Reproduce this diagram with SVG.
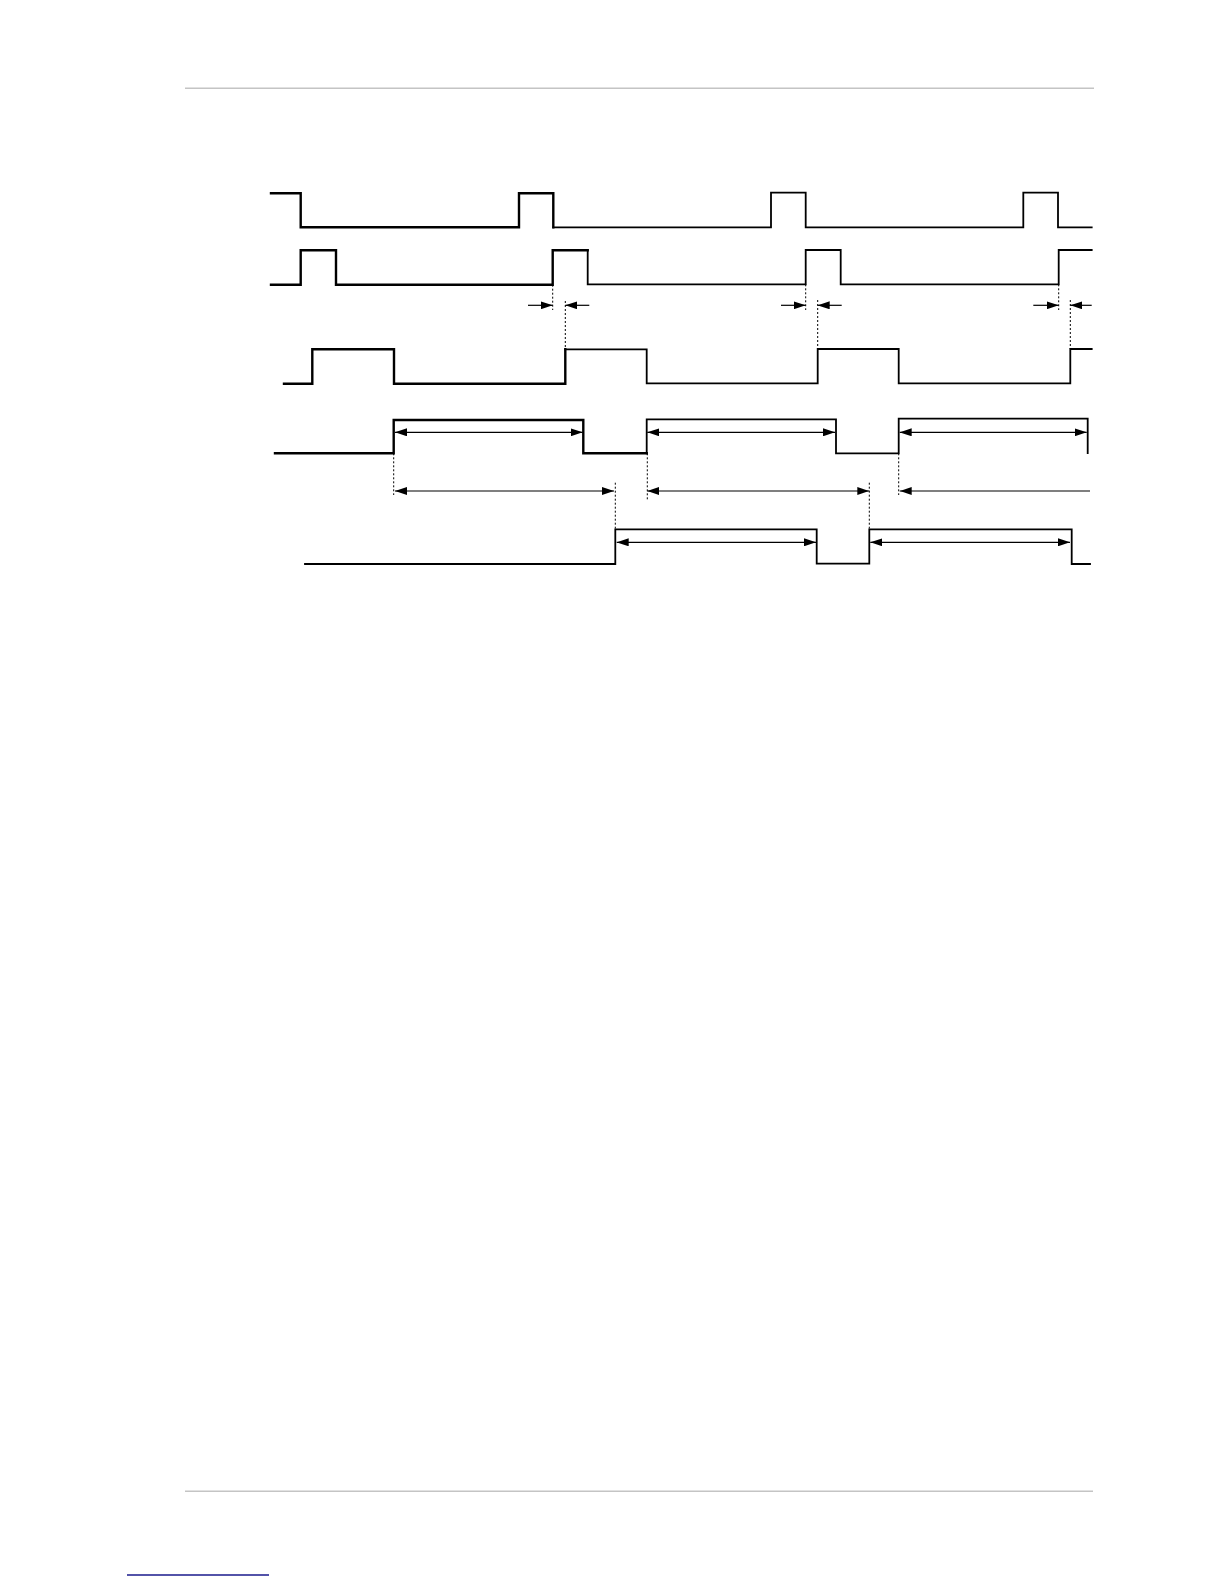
<svg xmlns="http://www.w3.org/2000/svg" width="1224" height="1584" viewBox="0 0 1224 1584">
<style>
.sig{fill:none;stroke:#000;stroke-width:1.8;stroke-linejoin:miter;stroke-linecap:square}
.thk{stroke-width:2.4}
.dot{fill:none;stroke:#000;stroke-width:1;stroke-dasharray:2,2}
.arr{fill:none;stroke:#000;stroke-width:1.2}
.rule{stroke:#c4c4c4;stroke-width:1.5}
</style>
<defs>
<marker id="ah" viewBox="0 0 12 8" refX="12" refY="4" markerWidth="12" markerHeight="8" markerUnits="userSpaceOnUse" orient="auto-start-reverse">
<path d="M0,0 L12,4 L0,8 Z" fill="#000"/>
</marker>
</defs>
<rect width="1224" height="1584" fill="#fff"/>
<line class="rule" x1="185" y1="88.3" x2="1094" y2="88.3"/>
<line class="rule" x1="185" y1="1491.3" x2="1093" y2="1491.3"/>
<line x1="127" y1="1575" x2="269" y2="1575" stroke="#1a1a8c" stroke-width="1.4"/>

<g id="signal1">
<path class="sig thk" d="M271,193.3 H300.7 V227.3 H519 V193.3 H553.3 V227.3"/>
<path class="sig" d="M553.3,227.3 H771 V192.7 H805.7 V227.3 H1023.3 V192.7 H1058 V227.3 H1091.7"/>
</g>
<g id="signal2">
<path class="sig thk" d="M271,284.7 H300.7 V250.3 H336 V284.7 H552.7 V250.3 H587.7"/>
<path class="sig" d="M587.7,250.3 V284.3 H805.7 V250 H840.7 V284.3 H1058.7 V250 H1091.7"/>
</g>
<g id="signal3">
<path class="sig thk" d="M284,383.7 H312.3 V349.3 H394 V383.7 H565.3 V349.3"/>
<path class="sig" d="M565.3,349.3 H646.7 V383.3 H817.7 V349 H898.7 V383.3 H1070.3 V349 H1091.7"/>
</g>
<g id="signal4">
<path class="sig thk" d="M275,453.3 H393.7 V420 H583.3 V453.3 H646.7"/>
<path class="sig" d="M646.7,453.3 V419.3 H836 V453.3 H898.7 V418.7 H1087.7 V453"/>
</g>
<g id="signal5">
<path class="sig" d="M305,564 H615.3 V529.3 H816.7 V563.7 H869.3 V529.3 H1071.7 V564 H1090"/>
</g>

<g id="connectors">
<line class="dot" x1="552.7" y1="284.7" x2="552.7" y2="310"/>
<line class="dot" x1="565.3" y1="301" x2="565.3" y2="349.3"/>
<line class="dot" x1="805.7" y1="284.3" x2="805.7" y2="310"/>
<line class="dot" x1="817.7" y1="300" x2="817.7" y2="349"/>
<line class="dot" x1="1058.7" y1="284.3" x2="1058.7" y2="310"/>
<line class="dot" x1="1070.3" y1="300" x2="1070.3" y2="349"/>
<line class="arr" x1="528" y1="305.3" x2="552.7" y2="305.3" marker-end="url(#ah)"/>
<line class="arr" x1="589.3" y1="305.3" x2="565.3" y2="305.3" marker-end="url(#ah)"/>
<line class="arr" x1="781" y1="305.3" x2="805.7" y2="305.3" marker-end="url(#ah)"/>
<line class="arr" x1="841.7" y1="305.3" x2="817.7" y2="305.3" marker-end="url(#ah)"/>
<line class="arr" x1="1033.3" y1="305.3" x2="1058.7" y2="305.3" marker-end="url(#ah)"/>
<line class="arr" x1="1091.7" y1="305.3" x2="1070.3" y2="305.3" marker-end="url(#ah)"/>

<line class="arr" x1="395" y1="432.3" x2="582.7" y2="432.3" marker-start="url(#ah)" marker-end="url(#ah)"/>
<line class="arr" x1="647.3" y1="432.3" x2="835" y2="432.3" marker-start="url(#ah)" marker-end="url(#ah)"/>
<line class="arr" x1="899.7" y1="432.3" x2="1086.7" y2="432.3" marker-start="url(#ah)" marker-end="url(#ah)"/>

<line class="dot" x1="393.7" y1="453.3" x2="393.7" y2="495"/>
<line class="dot" x1="647.3" y1="453.3" x2="647.3" y2="500"/>
<line class="dot" x1="898.7" y1="453.3" x2="898.7" y2="495"/>
<line class="dot" x1="615.3" y1="482.7" x2="615.3" y2="529.3"/>
<line class="dot" x1="869.3" y1="482.7" x2="869.3" y2="529.3"/>
<line class="arr" x1="395" y1="491" x2="614" y2="491" marker-start="url(#ah)" marker-end="url(#ah)"/>
<line class="arr" x1="647.3" y1="491" x2="869.3" y2="491" marker-start="url(#ah)" marker-end="url(#ah)"/>
<line class="arr" x1="899.7" y1="491" x2="1090" y2="491" marker-start="url(#ah)"/>

<line class="arr" x1="616.7" y1="542.3" x2="816" y2="542.3" marker-start="url(#ah)" marker-end="url(#ah)"/>
<line class="arr" x1="870.3" y1="542.3" x2="1070" y2="542.3" marker-start="url(#ah)" marker-end="url(#ah)"/>
</g>
</svg>
